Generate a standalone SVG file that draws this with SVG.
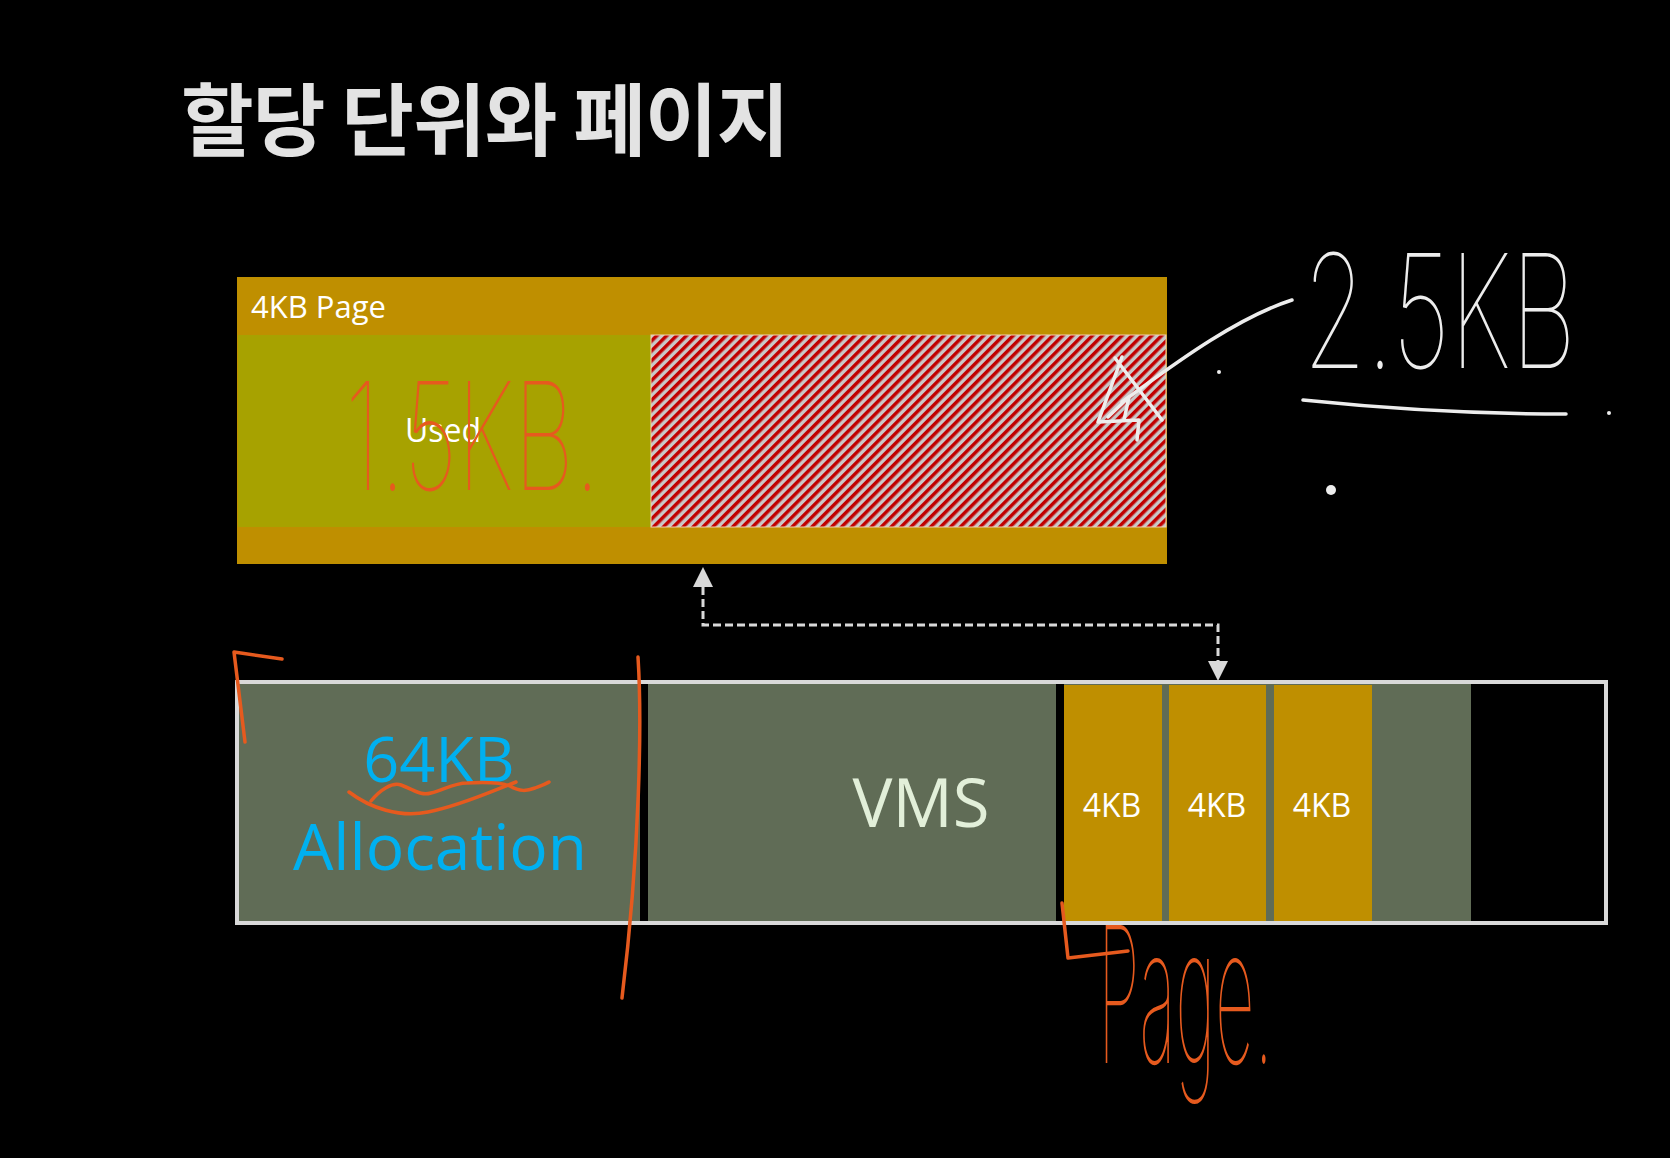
<svg xmlns="http://www.w3.org/2000/svg" width="1670" height="1158" viewBox="0 0 1670 1158">
<defs>
<style>
.lbl{font-family:"Open Sans","Liberation Sans",sans-serif;}
.gold{fill:#BF8F00;}
.gray{fill:#606C56;}
.hand-o{fill:#E65A1E;font-family:Inter,"Liberation Sans",sans-serif;font-weight:100;}
.hand-w{fill:#EDEDED;font-family:Inter,"Liberation Sans",sans-serif;font-weight:100;}
.stroke-o{fill:none;stroke:#E65A1E;stroke-width:3.5;stroke-linecap:round;stroke-linejoin:round;}
.stroke-w{fill:none;stroke:#EDEDED;stroke-width:3.5;stroke-linecap:round;stroke-linejoin:round;}
.conn{fill:none;stroke:#D9D9D9;stroke-width:3;stroke-dasharray:8 4;}
</style>
<pattern id="hatch" width="7" height="7" patternUnits="userSpaceOnUse" patternTransform="rotate(45)">
<rect width="7" height="7" fill="#C8C8C8"/>
<rect width="3.5" height="7" fill="#C00000"/>
</pattern>
<marker id="arr" viewBox="0 0 20 20" refX="0" refY="10" markerWidth="20" markerHeight="20" markerUnits="userSpaceOnUse" orient="auto-start-reverse">
<path d="M0,0 L20,10 L0,20 z" fill="#D9D9D9"/>
</marker>
</defs>
<rect width="1670" height="1158" fill="#000"/>

<g id="title">
<text x="181" y="150" font-family="'Noto Sans CJK KR',sans-serif" font-weight="bold" font-size="79" letter-spacing="-1" fill="#E3E3E3">할당 단위와 페이지</text>
</g>

<g id="page-4kb">
<rect class="gold" x="237" y="277" width="930" height="287"/>
<text class="lbl" x="251" y="318" font-size="31" fill="#FFFFFF">4KB Page</text>
</g>
<g id="used">
<rect x="238" y="335" width="413" height="192" fill="#A7A200"/>
<text class="lbl" x="443" y="442" font-size="32" fill="#FFFFFF" text-anchor="middle">Used</text>
</g>
<g id="free">
<rect x="651" y="335" width="515" height="192" fill="url(#hatch)" stroke="#F2D2B0" stroke-width="1"/>
</g>

<g id="vms-bar">
<rect x="237" y="682" width="1369" height="241" fill="#000" stroke="#D9D9D9" stroke-width="4"/>
<rect class="gray" x="239" y="684" width="401" height="237"/>
<rect class="gray" x="648" y="684" width="408" height="237"/>
<rect class="gray" x="1064" y="684" width="407" height="237"/>
</g>
<g id="allocation">
<text class="lbl" x="439" y="782" font-size="63" fill="#00B0F0" text-anchor="middle">64KB</text>
<text class="lbl" x="440" y="870" font-size="64" fill="#00B0F0" text-anchor="middle">Allocation</text>
</g>
<g id="vms">
<text class="lbl" x="921" y="827" font-size="67" fill="#E2EFD9" text-anchor="middle">VMS</text>
</g>
<g id="page1">
<rect class="gold" x="1064" y="685" width="98" height="236"/>
<text class="lbl" x="1112" y="817" font-size="32" fill="#FFFFFF" text-anchor="middle">4KB</text>
</g>
<g id="page2">
<rect class="gold" x="1169" y="685" width="97" height="236"/>
<text class="lbl" x="1217" y="817" font-size="32" fill="#FFFFFF" text-anchor="middle">4KB</text>
</g>
<g id="page3">
<rect class="gold" x="1274" y="685" width="98" height="236"/>
<text class="lbl" x="1322" y="817" font-size="32" fill="#FFFFFF" text-anchor="middle">4KB</text>
</g>

<g id="connectors">
<path class="conn" d="M703,587 V625 H1218 V661" marker-start="url(#arr)" marker-end="url(#arr)"/>
</g>

<g id="annotations">
<text class="hand-o" x="345" y="490" font-size="150" textLength="255" lengthAdjust="spacingAndGlyphs">1.5KB.</text>
<text class="hand-w" transform="translate(1303,368) scale(1,1.55)" font-size="102">2.5KB</text>
<text class="hand-o" x="1098" y="1063" font-size="190" textLength="175" lengthAdjust="spacingAndGlyphs">Page.</text>
<path class="stroke-w" d="M1122,402 C1160,375 1230,320 1292,300"/>
<path class="stroke-w" d="M1115,358 L1162,420 M1122,357 L1098,422 L1139,420 L1137,440 M1108,417 L1129,397 L1124,420"/>
<path class="stroke-w" d="M1303,400 C1380,408 1480,414 1566,414"/>
<circle cx="1609" cy="413" r="2" fill="#EDEDED"/>
<circle cx="1219" cy="372" r="2" fill="#EDEDED"/>
<circle cx="1331" cy="490" r="5" fill="#EDEDED"/>
<path class="stroke-o" d="M282,659 L234,652 L245,742"/>
<path class="stroke-o" d="M638,657 C642,720 640,850 622,998"/>
<path class="stroke-o" d="M349,792 C370,808 400,818 428,812 C460,806 495,790 516,782"/>
<path class="stroke-o" d="M371,801 C380,790 392,782 401,785 C415,790 420,796 431,793 C445,789 455,783 467,783 C485,782 500,782 510,786 C520,792 527,791 535,788 C542,785 546,784 549,782"/>
<path class="stroke-o" d="M1062,903 L1068,958 L1128,951"/>
</g>
</svg>
